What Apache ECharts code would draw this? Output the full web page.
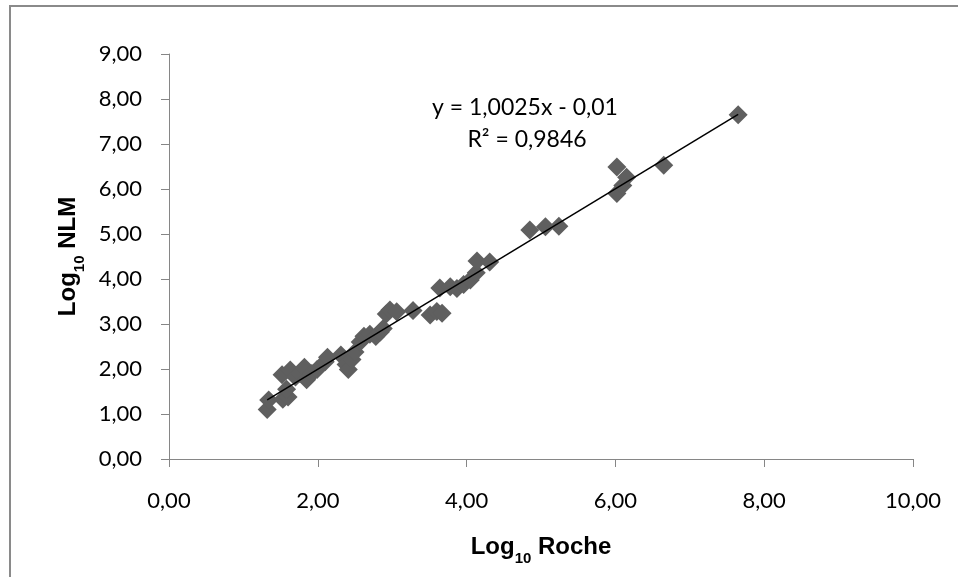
<!DOCTYPE html>
<html>
<head>
<meta charset="utf-8">
<script src="https://cdn.jsdelivr.net/npm/echarts@6/dist/echarts.min.js"></script>
<style>
html,body{margin:0;padding:0;background:#fff;}
#chart{width:958px;height:577px;}
</style>
</head>
<body>
<div id="chart"></div>
<script>
// Data (x = Log10 Roche, y = Log10 NLM)
const rocheValues = [1.32,1.34,1.53,1.60,1.58,1.52,1.63,1.70,1.76,1.82,1.85,1.92,1.99,2.10,2.13,2.31,2.38,2.41,2.46,2.50,2.57,2.62,2.70,2.78,2.84,2.88,2.92,2.97,3.06,3.28,3.51,3.60,3.67,3.64,3.78,3.87,3.96,4.05,4.13,4.14,4.31,4.85,5.06,5.24,6.02,6.10,6.15,6.02,6.65,7.65];
const nlmValues   = [1.10,1.31,1.33,1.38,1.55,1.87,1.98,1.82,1.90,2.04,1.76,1.90,1.99,2.16,2.26,2.31,2.10,1.99,2.21,2.38,2.60,2.73,2.77,2.72,2.82,2.90,3.22,3.31,3.27,3.30,3.20,3.28,3.24,3.80,3.83,3.79,3.88,3.98,4.14,4.40,4.38,5.09,5.16,5.17,5.90,6.08,6.26,6.49,6.53,7.65];
const trendSlope = 1.0025;
const trendIntercept = -0.01;
const rSquared = "0,9846";
const xTicks = {min: 0, max: 10, interval: 2};
const yTicks = {min: 0, max: 9, interval: 1};

const points = rocheValues.map((x, i) => [x, nlmValues[i]]);
const xMinData = Math.min(...rocheValues), xMaxData = Math.max(...rocheValues);
const trend = [[xMinData, trendSlope * xMinData + trendIntercept], [xMaxData, trendSlope * xMaxData + trendIntercept]];
const fmt = v => v.toFixed(2).replace('.', ',');
const eqText = "y = " + trendSlope.toFixed(4).replace('.', ',') + "x - " + Math.abs(trendIntercept).toFixed(2).replace('.', ',');

const chart = echarts.init(document.getElementById('chart'), null, {renderer: 'canvas'});
const axisColor = '#868686';
const nameRich = {
  a: {fontFamily: 'Liberation Sans', fontWeight: 'bold', fontSize: 24, color: '#000'},
  s: {fontFamily: 'Liberation Sans', fontWeight: 'bold', fontSize: 15, color: '#000', verticalAlign: 'bottom', padding: [0, 0, -7, 0]}
};
chart.setOption({
  animation: false,
  backgroundColor: '#fff',
  grid: {left: 169, right: 45, top: 54, bottom: 118},
  xAxis: {
    type: 'value', min: xTicks.min, max: xTicks.max, interval: xTicks.interval,
    name: '{a|Log}{s|10}{a| Roche}', nameLocation: 'middle', nameGap: 76,
    nameTextStyle: {rich: nameRich},
    axisLine: {show: true, onZero: false, lineStyle: {color: axisColor, width: 1}},
    axisTick: {show: true, length: 8, lineStyle: {color: axisColor}},
    axisLabel: {margin: 31, formatter: fmt, fontFamily: 'Lato', fontSize: 22, color: '#000'},
    splitLine: {show: false}
  },
  yAxis: {
    type: 'value', min: yTicks.min, max: yTicks.max, interval: yTicks.interval,
    name: '{a|Log}{s|10}{a| NLM}', nameLocation: 'middle', nameGap: 84, nameRotate: 90,
    nameTextStyle: {rich: nameRich},
    axisLine: {show: true, onZero: false, lineStyle: {color: axisColor, width: 1}},
    axisTick: {show: true, length: 8, lineStyle: {color: axisColor}},
    axisLabel: {margin: 27, formatter: fmt, fontFamily: 'Lato', fontSize: 22, color: '#000'},
    splitLine: {show: false}
  },
  series: [
    {
      type: 'scatter', data: points, symbol: 'diamond', symbolSize: 19,
      itemStyle: {color: '#5f5f5f', opacity: 1}, z: 2
    },
    {
      type: 'line', data: trend, showSymbol: false, symbol: 'none',
      lineStyle: {color: '#000', width: 1.5}, z: 3, silent: true
    }
  ],
  graphic: [
    {type: 'rect', shape: {x: 10, y: 6, width: 980, height: 620}, style: {fill: 'none', stroke: '#8a8a8a', lineWidth: 2}, silent: true},
    {type: 'text', x: 525, y: 108, style: {text: eqText, fontFamily: 'Lato', fontSize: 23, fill: '#000', textAlign: 'center', textVerticalAlign: 'middle'}},
    {type: 'text', x: 527, y: 140, style: {text: 'R² = ' + rSquared, fontFamily: 'Lato', fontSize: 23, fill: '#000', textAlign: 'center', textVerticalAlign: 'middle'}}
  ]
});
</script>
</body>
</html>
